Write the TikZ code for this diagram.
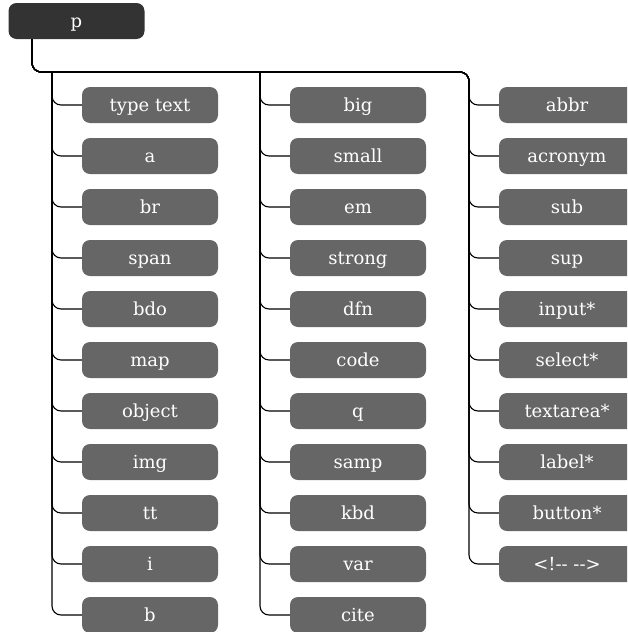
\documentclass[tikz,border=0pt]{standalone}
\usepackage{fontspec}
\setmainfont{DejaVu Serif}
\definecolor{boxgray}{HTML}{666666}
\definecolor{rootgray}{HTML}{333333}
\begin{document}
\begin{tikzpicture}[x=1pt,y=-1pt,
  item/.style={rounded corners=8pt, fill=boxgray, minimum width=136pt, minimum height=36pt,
    inner sep=0pt, text=white, text height=14pt, text depth=2pt,
    font=\fontsize{18}{21}\selectfont},
  root/.style={item, fill=rootgray},
  link/.style={draw=black, line width=1.1pt, rounded corners=9pt}]
\useasboundingbox (0,0) rectangle (627,632);
\clip (0,0) rectangle (627,632);
\node[root] (p) at (76.5,21) {p};
\coordinate (pstub) at (32,39);
\coordinate (j1) at (52,72);
\coordinate (j2) at (260,72);
\coordinate (j3) at (469,72);
\foreach \t [count=\i from 0] in {type text,a,br,span,bdo,map,object,img,tt,i,b}{
  \node[item] (a\i) at (150,105+51*\i) {\t};
}
\foreach \t [count=\i from 0] in {big,small,em,strong,dfn,code,q,samp,kbd,var,cite}{
  \node[item] (b\i) at (358,105+51*\i) {\t};
}
\foreach \t [count=\i from 0] in {abbr,acronym,sub,sup,input*,select*,textarea*,label*,button*,<!-{}- -{}->}{
  \node[item] (c\i) at (567,105+51*\i) {\t};
}
\foreach \i in {0,...,10}{
  \draw[link] (j1) |- (a\i.west);
  \draw[link] (j2) |- (b\i.west);
}
\foreach \i in {0,...,9}{
  \draw[link] (pstub) |- (j3) |- (c\i.west);
}
\end{tikzpicture}
\end{document}
